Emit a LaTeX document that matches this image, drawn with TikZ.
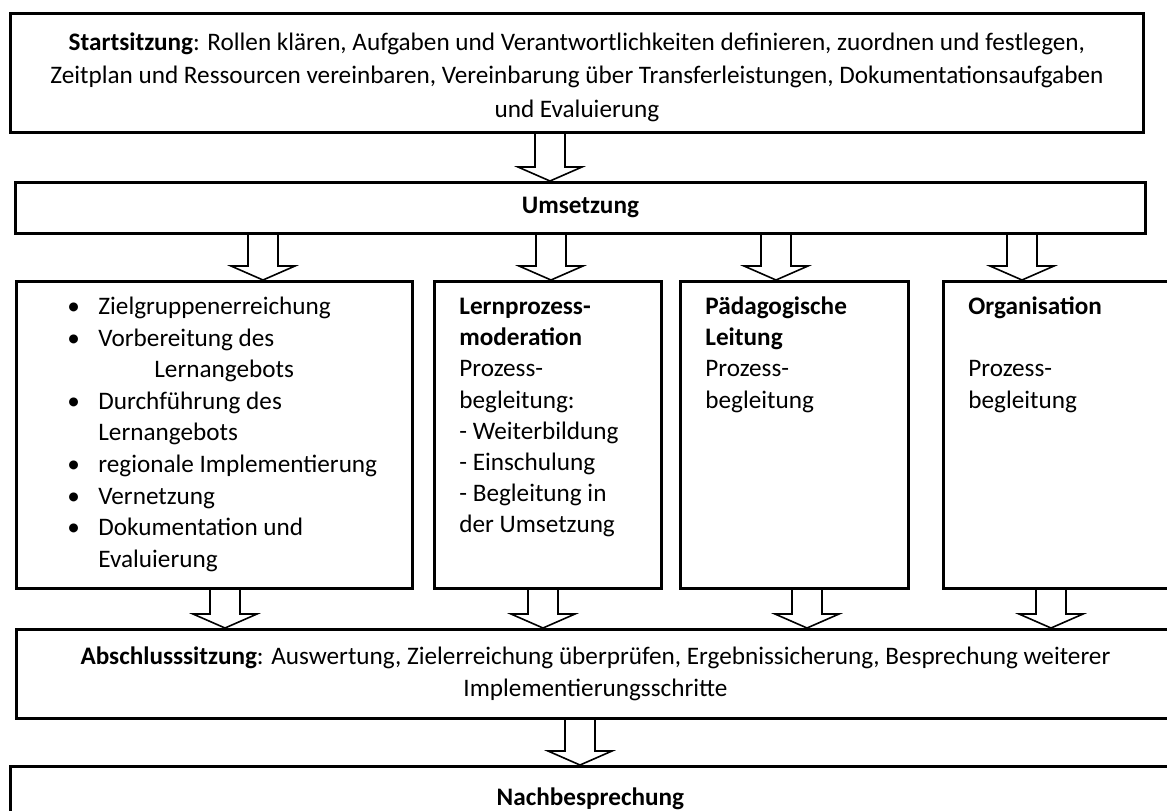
\documentclass[tikz,border=0pt]{standalone}
\usepackage{fontspec}
\setmainfont{Carlito}
\usetikzlibrary{calc}

\newcommand{\bulletline}[1]{\hspace*{25.5pt}\makebox[15.5pt][l]{\textbullet}#1}

\begin{document}
\begin{tikzpicture}[x=0.5pt, y=-0.5pt,
        banner/.style={draw, line width=1.4pt, inner sep=0pt, anchor=north west, align=center, font=\fontsize{12.6}{16}\selectfont},
        column/.style={draw, line width=1.4pt, inner sep=0pt, anchor=north west, font=\fontsize{12.6}{15.6}\selectfont},
        flow/.style={draw, line width=0.8pt, line join=miter}
    ]
    \clip (0,0) rectangle (1167,810);

    % Startsitzung (top)
    \node[banner, font=\fontsize{12.6}{16.75}\selectfont] (start) at (9,12) {\parbox[c][59.5pt][c]{566.5pt}{\centering\vspace*{4pt}
        \textbf{Startsitzung}: Rollen klären, Aufgaben und Verantwortlichkeiten definieren, zuordnen und festlegen,\\
        Zeitplan und Ressourcen vereinbaren, Vereinbarung über Transferleistungen, Dokumentationsaufgaben\\
        und Evaluierung}};

    % Umsetzung
    \node[banner, minimum width=565pt, minimum height=25.5pt] (umsetzung) at (14,181) {\textbf{Umsetzung}};

    % Four columns
    \node[column, font=\fontsize{12.6}{15.8}\selectfont] (tasks) at (15,280) {\parbox[t][153.5pt][t]{198pt}{\raggedright
        \rule{0pt}{16.5pt}\bulletline{Zielgruppenerreichung}\\
        \bulletline{Vorbereitung des}\\
        \hspace*{69pt}Lernangebots\\
        \bulletline{Durchführung des}\\
        \hspace*{41pt}Lernangebots\\
        \bulletline{regionale Implementierung}\\
        \bulletline{Vernetzung}\\
        \bulletline{Dokumentation und}\\
        \hspace*{41pt}Evaluierung}};
    \node[column] (moderation) at (433,280) {\parbox[t][153.5pt][t]{113.5pt}{\raggedright\leftskip=12.5pt
        \rule{0pt}{16.5pt}\textbf{Lernprozess-}\\
        \textbf{moderation}\\
        Prozess-\\
        begleitung:\\
        - Weiterbildung\\
        - Einschulung\\
        - Begleitung in\\
        der Umsetzung}};
    \node[column] (leitung) at (679,280) {\parbox[t][153.5pt][t]{114pt}{\raggedright\leftskip=12.5pt
        \rule{0pt}{16.5pt}\textbf{Pädagogische}\\
        \textbf{Leitung}\\
        Prozess-\\
        begleitung}};
    \node[column] (orga) at (942,280) {\parbox[t][153.5pt][t]{115.5pt}{\raggedright\leftskip=12.5pt
        \rule{0pt}{16.5pt}\textbf{Organisation}\\
        \mbox{}\\
        Prozess-\\
        begleitung}};

    % Abschlusssitzung
    \node[banner, minimum width=579pt, minimum height=44.5pt] (abschluss) at (15,628)
        {\textbf{Abschlusssitzung}: Auswertung, Zielerreichung überprüfen, Ergebnissicherung, Besprechung weiterer\\
         Implementierungsschritte};

    % Nachbesprechung (bottom)
    \node[banner, minimum width=580pt, minimum height=32pt] (nach) at (9,765) {\textbf{Nachbesprechung}};

    % Hollow block arrows
    \foreach \x/\a/\b in {550/start/umsetzung,
                          263/umsetzung/tasks, 551/umsetzung/moderation, 776/umsetzung/leitung, 1022/umsetzung/orga,
                          225/tasks/abschluss, 543/moderation/abschluss, 807/leitung/abschluss, 1051/orga/abschluss,
                          580/abschluss/nach} {
        \path (\x,0 |- \a.south) coordinate (tail) (\x,0 |- \b.north) coordinate (tip);
        \draw[flow] ($(tail)+(-15,0)$) -- ($(tip)+(-15,-14)$) -- ($(tip)+(-32,-14)$) -- (tip)
            -- ($(tip)+(32,-14)$) -- ($(tip)+(15,-14)$) -- ($(tail)+(15,0)$);
    }

\end{tikzpicture}
\end{document}
